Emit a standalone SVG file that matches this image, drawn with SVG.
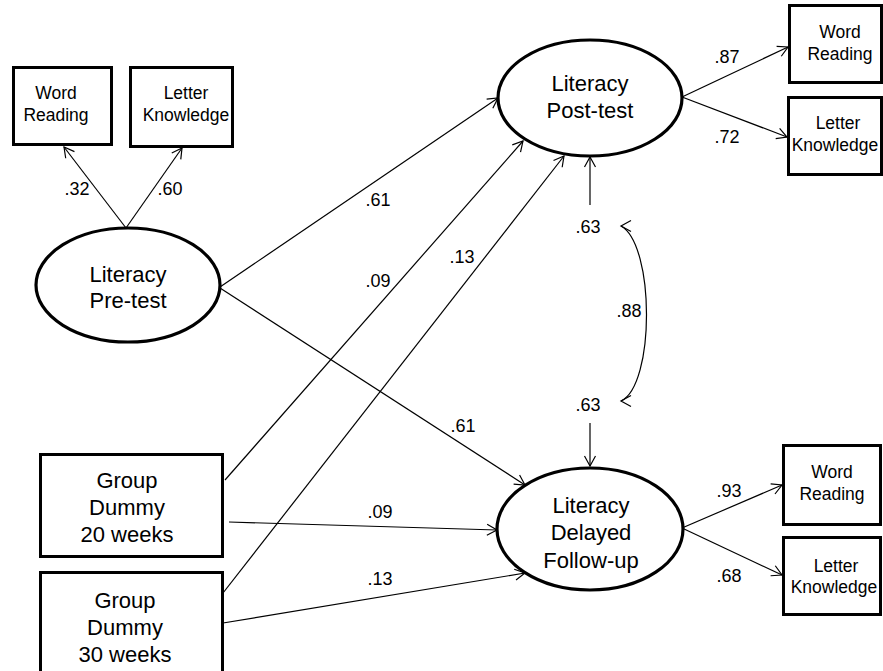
<svg xmlns="http://www.w3.org/2000/svg" width="883" height="671" viewBox="0 0 883 671">
<style>
text{font-family:"Liberation Sans",Arial,sans-serif;fill:#000;text-anchor:middle}
.big{font-size:22px}
.sm{font-size:17.5px}
.lbl{font-size:18px}
.box{fill:#fff;stroke:#000;stroke-width:3}
.lat{fill:#fff;stroke:#000;stroke-width:3.2}
.c{fill:none;stroke:#000;stroke-width:1.2}
</style>
<defs>
<marker id="ah" markerUnits="userSpaceOnUse" markerWidth="14" markerHeight="14" viewBox="0 0 14 14" refX="12" refY="7" orient="auto-start-reverse">
<path d="M2,1.5 L12,7 L2,12.5" fill="none" stroke="#000" stroke-width="1.2"/>
</marker>
<marker id="ahl" markerUnits="userSpaceOnUse" markerWidth="14" markerHeight="14" viewBox="0 0 14 14" refX="12" refY="7" orient="180">
<path d="M2,1.5 L12,7 L2,12.5" fill="none" stroke="#000" stroke-width="1.2"/>
</marker>
</defs>

<g id="connectors">
<line class="c" x1="126" y1="228" x2="64" y2="147" marker-end="url(#ah)"/>
<line class="c" x1="126" y1="228" x2="182" y2="148" marker-end="url(#ah)"/>
<line class="c" x1="220" y1="287" x2="498" y2="98" marker-end="url(#ah)"/>
<line class="c" x1="220" y1="288" x2="525" y2="485" marker-end="url(#ah)"/>
<line class="c" x1="225" y1="480" x2="523" y2="141" marker-end="url(#ah)"/>
<line class="c" x1="229" y1="522" x2="497" y2="530" marker-end="url(#ah)"/>
<line class="c" x1="223" y1="593" x2="564" y2="156" marker-end="url(#ah)"/>
<line class="c" x1="223" y1="623" x2="525" y2="573" marker-end="url(#ah)"/>
<line class="c" x1="682" y1="97" x2="788" y2="47" marker-end="url(#ah)"/>
<line class="c" x1="682" y1="97" x2="787" y2="137" marker-end="url(#ah)"/>
<line class="c" x1="682" y1="528" x2="782" y2="485" marker-end="url(#ah)"/>
<line class="c" x1="682" y1="528" x2="782" y2="575" marker-end="url(#ah)"/>
<line class="c" x1="590" y1="205" x2="590" y2="157" marker-end="url(#ah)"/>
<line class="c" x1="590" y1="423" x2="590" y2="466" marker-end="url(#ah)"/>
<path class="c" d="M621,226 C655,245 655,385 621,401" marker-start="url(#ahl)" marker-end="url(#ahl)"/>
<text class="lbl" x="77" y="195">.32</text>
<text class="lbl" x="170" y="195">.60</text>
<text class="lbl" x="378" y="206">.61</text>
<text class="lbl" x="378" y="287">.09</text>
<text class="lbl" x="462" y="263">.13</text>
<text class="lbl" x="463" y="432">.61</text>
<text class="lbl" x="380" y="518">.09</text>
<text class="lbl" x="380" y="585">.13</text>
<text class="lbl" x="727" y="63">.87</text>
<text class="lbl" x="727" y="143">.72</text>
<text class="lbl" x="729" y="497">.93</text>
<text class="lbl" x="729" y="582">.68</text>
<text class="lbl" x="588" y="233">.63</text>
<text class="lbl" x="588" y="411">.63</text>
<text class="lbl" x="629" y="317">.88</text>
</g>

<g id="pre_word_reading">
<rect class="box" x="13.5" y="67.5" width="98" height="77"/>
<text class="sm" x="56" y="99">Word</text>
<text class="sm" x="56" y="121">Reading</text>
</g>
<g id="pre_letter_knowledge">
<rect class="box" x="130.5" y="67.5" width="102" height="79"/>
<text class="sm" x="186" y="99">Letter</text>
<text class="sm" x="186" y="121">Knowledge</text>
</g>
<g id="literacy_pre">
<ellipse class="lat" cx="128" cy="285" rx="92" ry="57"/>
<text class="big" x="128" y="282">Literacy</text>
<text class="big" x="128" y="308">Pre-test</text>
</g>
<g id="literacy_post">
<ellipse class="lat" cx="590" cy="98" rx="92" ry="58"/>
<text class="big" x="590" y="91">Literacy</text>
<text class="big" x="590" y="118">Post-test</text>
</g>
<g id="post_word_reading">
<rect class="box" x="789.5" y="5.5" width="92" height="77"/>
<text class="sm" x="840" y="38">Word</text>
<text class="sm" x="840" y="60">Reading</text>
</g>
<g id="post_letter_knowledge">
<rect class="box" x="788.5" y="97.5" width="93" height="77"/>
<text class="sm" x="838" y="129">Letter</text>
<text class="sm" x="835" y="151">Knowledge</text>
</g>
<g id="literacy_delayed">
<ellipse class="lat" cx="590" cy="529" rx="93" ry="61"/>
<text class="big" x="591" y="513">Literacy</text>
<text class="big" x="591" y="540">Delayed</text>
<text class="big" x="591" y="568">Follow-up</text>
</g>
<g id="del_word_reading">
<rect class="box" x="783.5" y="445.5" width="97" height="79"/>
<text class="sm" x="832" y="478">Word</text>
<text class="sm" x="832" y="500">Reading</text>
</g>
<g id="del_letter_knowledge">
<rect class="box" x="783.5" y="537.5" width="97" height="77"/>
<text class="sm" x="836" y="572">Letter</text>
<text class="sm" x="834" y="593">Knowledge</text>
</g>
<g id="group_20">
<rect class="box" x="40.5" y="454.5" width="182" height="102"/>
<text class="big" x="127" y="488">Group</text>
<text class="big" x="127" y="515">Dummy</text>
<text class="big" x="127" y="542">20 weeks</text>
</g>
<g id="group_30">
<rect class="box" x="40.5" y="572.5" width="182" height="110"/>
<text class="big" x="125" y="608">Group</text>
<text class="big" x="125" y="635">Dummy</text>
<text class="big" x="125" y="662">30 weeks</text>
</g>
</svg>
